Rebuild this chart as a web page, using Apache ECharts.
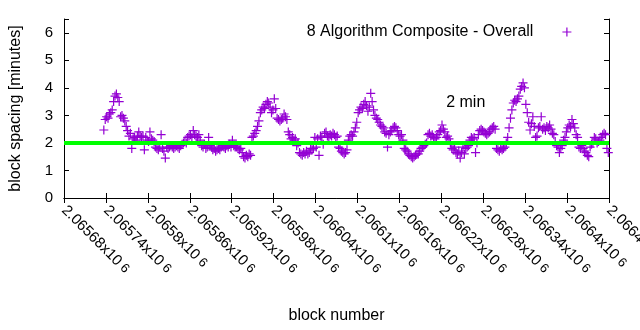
<!DOCTYPE html>
<html>
<head>
<meta charset="utf-8">
<script src="https://cdn.jsdelivr.net/npm/echarts@6/dist/echarts.min.js"></script>
<style>
html,body{margin:0;padding:0;background:#fff;}
#chart{width:640px;height:330px;}
</style>
</head>
<body>
<div id="chart"></div>
<script>
// ---- data ----
const seriesName = '8 Algorithm Composite - Overall';
const firstBlock = 2065737;
const blockStep = 2;
const spacing = [
  2.47, 2.85, 2.95, 2.9, 3.05, 3.1, 3.2, 3.5, 3.7, 3.78,
  3.65, 3.5, 2.95, 3.0, 2.9, 2.8, 2.6, 2.45, 2.25, 2.35,
  1.8, 2.15, 2.2, 2.1, 2.25, 2.4, 2.25, 2.2, 2.25, 1.75,
  2.2, 2.1, 2.05, 2.4, 2.15, 2.1, 2.05, 1.85, 1.8, 1.75,
  1.85, 2.3, 1.8, 1.7, 1.45, 1.85, 1.8, 1.85, 1.9, 1.85,
  1.8, 1.85, 1.9, 1.85, 1.8, 1.9, 1.95, 2.0, 2.05, 2.0,
  2.2, 2.25, 2.3, 2.2, 2.45, 2.3, 2.25, 2.2, 2.3, 2.1,
  1.9, 1.85, 1.95, 1.8, 1.85, 2.2, 1.9, 1.85, 1.75, 1.8,
  1.7, 1.75, 1.8, 1.75, 1.85, 1.9, 1.85, 1.8, 1.9, 1.85,
  1.95, 1.85, 2.1, 1.9, 1.85, 1.85, 1.8, 1.75, 1.8, 1.65,
  1.5, 1.45, 1.55, 1.5, 1.6, 1.55, 2.2, 2.25, 2.35, 2.45,
  2.6, 2.8, 3.1, 3.2, 3.3, 3.25, 3.4, 3.5, 3.45, 3.3,
  3.1, 3.2, 3.6, 3.25, 2.9, 2.85, 2.8, 2.85, 2.9, 3.05,
  2.95, 2.85, 2.4, 2.3, 2.15, 2.2, 2.1, 2.15, 1.9, 2.0,
  1.65, 1.6, 1.55, 1.65, 1.6, 1.7, 1.6, 1.65, 1.8, 1.75,
  1.8, 2.2, 1.85, 2.15, 1.55, 2.25, 2.2, 1.95, 2.35, 2.4,
  2.25, 2.2, 2.3, 2.25, 2.35, 2.3, 2.2, 2.25, 1.85, 1.8,
  1.7, 1.65, 1.6, 1.65, 1.75, 2.1, 2.25, 2.3, 2.25, 2.4,
  2.55, 2.75, 3.1, 3.2, 3.3, 3.25, 3.4, 3.5, 3.35, 3.15,
  3.3, 3.8, 3.5, 3.2, 3.0, 2.9, 2.85, 2.75, 2.65, 2.6,
  2.55, 2.4, 2.35, 1.85, 2.3, 2.4, 2.45, 2.55, 2.6, 2.55,
  2.45, 2.3, 2.25, 2.3, 2.1, 1.8, 1.75, 1.7, 1.6, 1.55,
  1.5, 1.45, 1.5, 1.55, 1.6, 1.6, 1.7, 1.8, 1.85, 1.9,
  1.95, 2.0, 2.3, 2.35, 2.25, 2.3, 2.2, 2.15, 2.2, 2.3,
  2.4, 2.45, 2.65, 2.5, 2.4, 2.2, 2.25, 2.15, 2.0, 1.8,
  1.75, 1.85, 1.65, 1.6, 1.7, 1.45, 1.65, 1.85, 1.6, 1.8,
  1.85, 1.9, 2.1, 2.2, 2.15, 2.2, 1.65, 2.0, 2.3, 2.45,
  2.5, 2.45, 2.4, 2.35, 2.3, 2.35, 2.4, 2.5, 2.55, 2.6,
  2.5, 1.8, 1.75, 1.7, 1.8, 1.75, 1.8, 1.85, 2.0, 2.2,
  2.55, 2.9, 3.2, 3.45, 3.55, 3.5, 3.6, 3.7, 3.95, 4.05,
  4.18, 4.0, 3.4, 3.1, 2.75, 2.47, 2.7, 2.95, 2.6, 2.2,
  2.25, 2.55, 2.6, 2.95, 2.5, 2.55, 2.45, 2.6, 2.55, 2.65,
  2.5, 2.35, 2.3, 2.05, 1.9, 1.85, 1.65, 1.8, 1.9, 2.1,
  2.2, 2.4, 2.55, 2.65, 2.6, 2.85, 2.7, 2.55, 2.3, 2.2,
  1.85, 1.8, 1.9, 1.8, 1.7, 1.65, 1.55, 1.5, 1.85, 1.95,
  2.0, 2.2, 2.15, 2.0, 2.05, 2.1, 2.2, 2.3, 2.35, 2.3,
  1.8, 1.65
];
const targetLine = [2065680, 2066460];
const targetValue = 2;
const targetLabel = '2 min';
const targetLabelAt = [2066255, 3.47];
const xMin = 2065680, xMax = 2066460, xInterval = 60;
const yMin = 0, yMax = 6.5, yInterval = 1;

// ---- build ----
const points = spacing.map((v, i) => [firstBlock + i * blockStep, v]);
const plusPath = 'path://M0,5L10,5M5,0L5,10';
const FONT = 'Liberation Sans';
const FS = 16;
const purple = '#9400d3';

function xLabel(v) {
  let s = (v / 1e6).toFixed(5).replace(/0+$/, '').replace(/\.$/, '');
  return '{m|' + s + 'x10}{s| 6}';
}

const chart = echarts.init(document.getElementById('chart'), null, {renderer: 'canvas'});
chart.setOption({
  animation: false,
  backgroundColor: '#fff',
  textStyle: {fontFamily: FONT},
  grid: {left: 64, right: 31, top: 19, bottom: 132, containLabel: false, outerBoundsMode: 'none'},
  legend: {
    show: true,
    right: 63,
    top: 19,
    align: 'right',
    icon: plusPath,
    itemWidth: 9,
    itemHeight: 9,
    itemStyle: {color: 'rgba(0,0,0,0)', borderColor: purple, borderWidth: 1.2},
    textStyle: {fontFamily: FONT, fontSize: FS, color: '#000', padding: [0, 24, 0, 0]},
    data: [seriesName]
  },
  xAxis: [{
    type: 'value', min: xMin, max: xMax, interval: xInterval,
    position: 'bottom',
    name: 'block number', nameLocation: 'middle', nameGap: 110,
    nameTextStyle: {fontFamily: FONT, fontSize: FS, color: '#000'},
    axisLine: {show: true, lineStyle: {color: '#000', width: 1}},
    axisTick: {show: true, inside: true, length: 5, lineStyle: {color: '#000'}},
    splitLine: {show: false},
    axisLabel: {
      rotate: -45, margin: 10, color: '#000', fontFamily: FONT, hideOverlap: false,
      formatter: xLabel,
      rich: {
        m: {fontSize: 15, fontFamily: FONT, color: '#000'},
        s: {fontSize: 13, fontFamily: FONT, color: '#000'}
      }
    }
  }, {
    type: 'value', min: xMin, max: xMax, interval: xInterval,
    position: 'top',
    axisLine: {show: true, lineStyle: {color: '#000', width: 1}},
    axisTick: {show: true, inside: true, length: 5, lineStyle: {color: '#000'}},
    axisLabel: {show: false},
    splitLine: {show: false}
  }],
  yAxis: [{
    type: 'value', min: yMin, max: yMax, interval: yInterval,
    position: 'left',
    name: 'block spacing [minutes]', nameLocation: 'middle', nameGap: 40,
    nameTextStyle: {fontFamily: FONT, fontSize: FS, color: '#000'},
    axisLine: {show: true, lineStyle: {color: '#000', width: 1}},
    axisTick: {show: true, inside: true, length: 5, lineStyle: {color: '#000'}},
    splitLine: {show: false},
    axisLabel: {
      color: '#000', fontFamily: FONT, fontSize: 15, margin: 11,
      formatter: v => (Number.isInteger(v) ? String(v) : '')
    }
  }, {
    type: 'value', min: yMin, max: yMax, interval: yInterval,
    position: 'right',
    axisLine: {show: true, lineStyle: {color: '#000', width: 1}},
    axisTick: {show: true, inside: true, length: 5, lineStyle: {color: '#000'}},
    axisLabel: {show: false},
    splitLine: {show: false}
  }],
  series: [{
    name: seriesName,
    type: 'scatter',
    data: points,
    symbol: plusPath,
    symbolSize: 9,
    itemStyle: {color: 'rgba(0,0,0,0)', borderColor: purple, borderWidth: 1.2, opacity: 1},
    z: 2
  }, {
    name: 'target',
    type: 'line',
    data: targetLine.map(x => [x, targetValue]),
    symbol: 'none',
    lineStyle: {color: '#00ff00', width: 4},
    z: 3,
    markPoint: {
      symbol: 'circle', symbolSize: 0,
      data: [{coord: targetLabelAt, value: targetLabel}],
      label: {show: true, position: 'inside', formatter: targetLabel, color: '#000', fontFamily: FONT, fontSize: FS}
    }
  }]
});
</script>
</body>
</html>
